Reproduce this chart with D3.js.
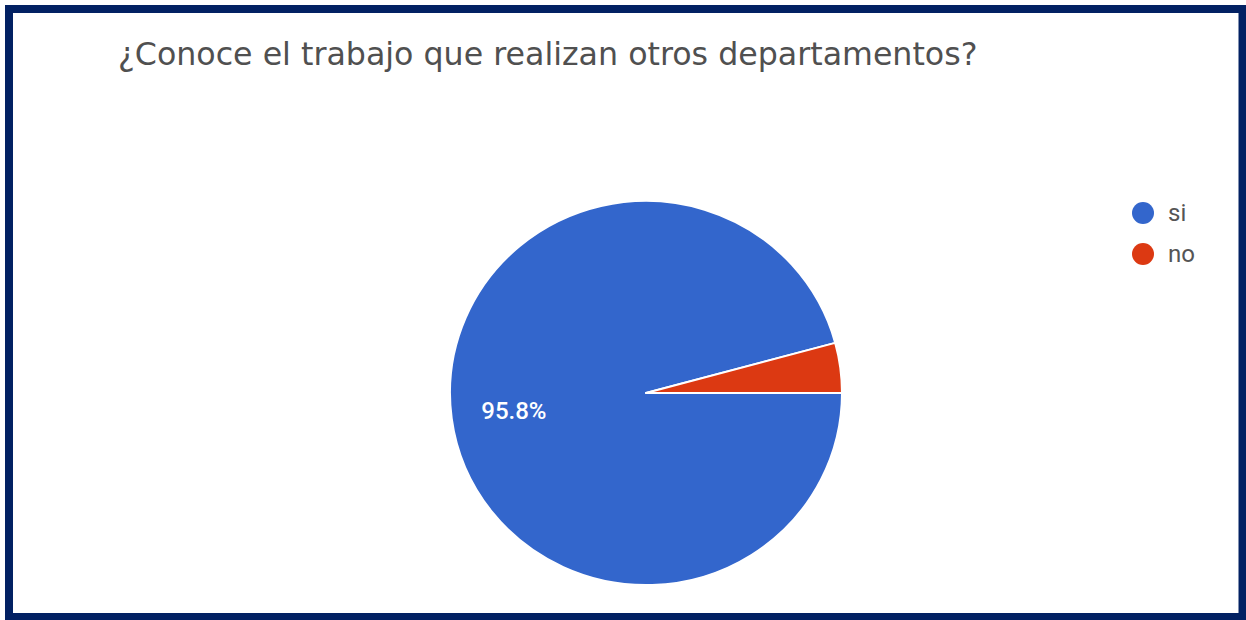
<!DOCTYPE html>
<html>
<head>
<meta charset="utf-8">
<script src="https://cdn.jsdelivr.net/npm/d3@7"></script>
<style>
  html, body { margin: 0; padding: 0; background: #ffffff; }
  svg { display: block; }
</style>
</head>
<body>
<script>
// Survey answers (percent of respondents)
const categories = ["si", "no"];
const values = [95.8, 4.2];
const colors = ["#3366cc", "#dc3912"];
const title = "¿Conoce el trabajo que realizan otros departamentos?";

const W = 1246, H = 620;
const svg = d3.select("body").append("svg")
  .attr("width", W).attr("height", H);

svg.append("rect").attr("width", W).attr("height", H).attr("fill", "#ffffff");

// Frame
svg.append("rect")
  .attr("x", 9).attr("y", 9)
  .attr("width", W - 9 - 3.5).attr("height", H - 9 - 3)
  .attr("fill", "none")
  .attr("stroke", "#022163")
  .attr("stroke-width", 8);

// Title, sized so it spans the header width
const titleText = svg.append("text")
  .attr("x", 118).attr("y", 65)
  .attr("font-family", "'DejaVu Sans', 'Open Sans', sans-serif")
  .attr("font-size", 28)
  .attr("fill", "#505050")
  .text(title);
const tw = titleText.node().getComputedTextLength();
titleText.attr("font-size", 28 * 860 / tw);

// Pie (slightly flattened vertically)
const cx = 646, cy = 393, r = 196;
const data = categories.map((c, i) => ({ cat: c, value: values[i], color: colors[i] }));

const pie = d3.pie()
  .sort(null)
  .value(d => d.value)
  .startAngle(Math.PI / 2)
  .endAngle(Math.PI / 2 + 2 * Math.PI);

const arcs = pie(data);
const arc = d3.arc().innerRadius(0).outerRadius(r);

const g = svg.append("g").attr("transform", `translate(${cx},${cy})`);
g.append("g")
  .attr("transform", "scale(1,0.98)")
  .selectAll("path")
  .data(arcs)
  .join("path")
  .attr("d", arc)
  .attr("fill", d => d.data.color)
  .attr("stroke", "#ffffff")
  .attr("stroke-width", 2)
  .attr("stroke-linejoin", "round");

// Percentage label inside the large slice
const labelArc = d3.arc().innerRadius(r * 0.68).outerRadius(r * 0.68);
g.selectAll("text.pct")
  .data(arcs.filter(d => d.data.value > 10))
  .join("text")
  .attr("class", "pct")
  .attr("transform", d => {
    const [x, y] = labelArc.centroid(d);
    return `translate(${x},${y * 0.98})`;
  })
  .attr("text-anchor", "middle")
  .attr("dy", "0.35em")
  .attr("font-family", "Roboto, 'Noto Sans', sans-serif")
  .attr("font-size", 24)
  .attr("font-weight", 500)
  .attr("fill", "#ffffff")
  .text(d => d3.format(".1f")(d.data.value) + "%");

// Legend
const legend = svg.append("g").attr("transform", "translate(1143,213)");
const items = legend.selectAll("g")
  .data(data)
  .join("g")
  .attr("transform", (d, i) => `translate(0,${i * 41})`);
items.append("circle").attr("r", 11).attr("fill", d => d.color);
items.append("text")
  .attr("x", 25).attr("dy", "0.35em")
  .attr("font-family", "Roboto, 'Noto Sans', sans-serif")
  .attr("font-size", 24)
  .attr("fill", "#555555")
  .text(d => d.cat);
</script>
</body>
</html>
